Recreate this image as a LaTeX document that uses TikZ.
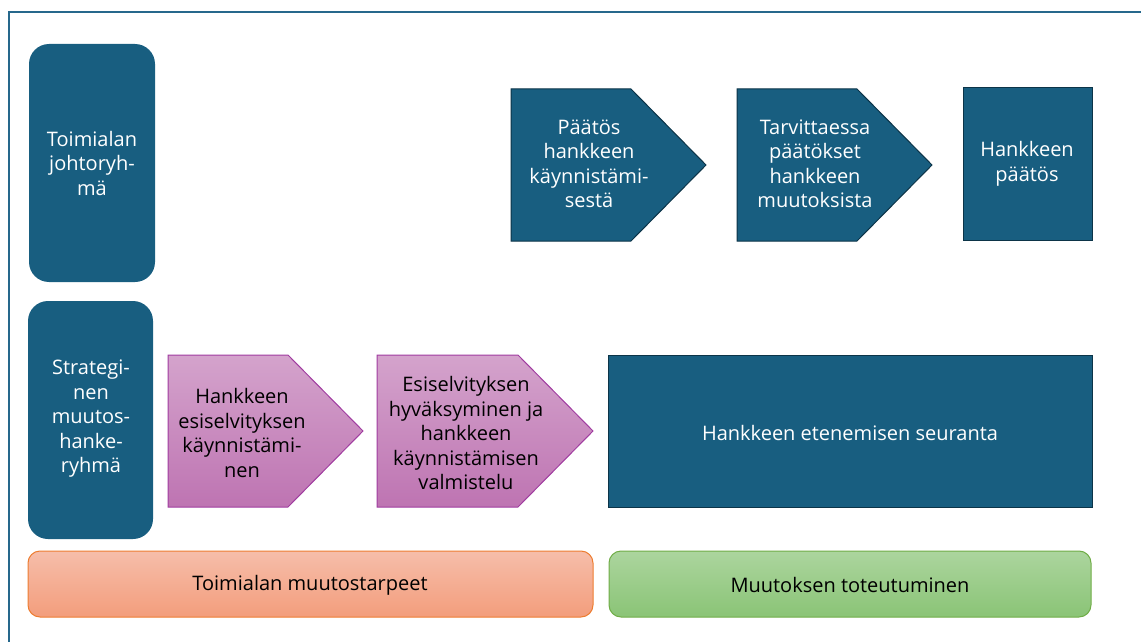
\documentclass[tikz,border=0pt]{standalone}
\usepackage{fontspec}
\setmainfont{Open Sans}

\definecolor{laatikko}{RGB}{24,94,128}
\definecolor{reunus}{RGB}{12,52,72}
\definecolor{kehys}{RGB}{38,104,140}
\definecolor{violettiylä}{RGB}{212,163,204}
\definecolor{violettiala}{RGB}{190,116,178}
\definecolor{violettireuna}{RGB}{160,60,160}
\definecolor{oranssiyla}{RGB}{246,190,170}
\definecolor{oranssiala}{RGB}{243,157,124}
\definecolor{oranssireuna}{RGB}{237,125,49}
\definecolor{vihreayla}{RGB}{172,213,158}
\definecolor{vihreaala}{RGB}{138,196,118}
\definecolor{vihreareuna}{RGB}{112,173,71}

\tikzset{
  teksti/.style={align=center,font=\fontsize{20}{24.5}\selectfont},
  valkoteksti/.style={teksti,text=white},
  sininen/.style={fill=laatikko,draw=reunus,line width=1pt},
  violetti/.style={top color=violettiylä,bottom color=violettiala,draw=violettireuna,line width=1pt},
}

\begin{document}
\begin{tikzpicture}[x=1pt,y=-1pt]
\useasboundingbox (0,0) rectangle (1141,642);

% Kehys
\draw[kehys,line width=2pt] (9,642) -- (9,12) -- (1141,12);

% Ryhmät
\fill[laatikko,rounded corners=20pt] (29,44) rectangle (155,282);
\node[valkoteksti] (johto) at (92,163) {Toimialan\\johtoryh-\\mä};

\fill[laatikko,rounded corners=20pt] (28,301) rectangle (153,539);
\node[valkoteksti] (strat) at (91,419) {Strategi-\\nen\\muutos-\\hanke-\\ryhmä};

% Päätökset
\draw[sininen] (511,89) -- (631,89) -- (706,165) -- (631,241) -- (511,241) -- cycle;
\node[valkoteksti] (kaynnistys) at (589,164) {Päätös\\hankkeen\\käynnistämi-\\sestä};

\draw[sininen] (737,89) -- (857,89) -- (932,165) -- (857,241) -- (737,241) -- cycle;
\node[valkoteksti] (muutokset) at (815,164) {Tarvittaessa\\päätökset\\hankkeen\\muutoksista};

\draw[sininen] (963,88) rectangle (1092,240);
\node[valkoteksti] (paatos) at (1027,164) {Hankkeen\\päätös};

% Esiselvitys
\draw[violetti] (168,355) -- (288,355) -- (363,431) -- (288,507) -- (168,507) -- cycle;
\node[teksti] (esiselvitys) at (242,433) {Hankkeen\\esiselvityksen\\käynnistämi-\\nen};

\draw[violetti] (377,355) -- (518,355) -- (593,431) -- (518,507) -- (377,507) -- cycle;
\node[teksti] (valmistelu) at (466,433) {Esiselvityksen\\hyväksyminen ja\\hankkeen\\käynnistämisen\\valmistelu};

% Seuranta
\draw[sininen] (608,355) rectangle (1092,507);
\node[valkoteksti] (seuranta) at (850,433) {Hankkeen etenemisen seuranta};

% Alapalkit
\draw[top color=oranssiyla,bottom color=oranssiala,draw=oranssireuna,line width=1pt,rounded corners=12pt]
  (28,551) rectangle (593,617);
\node[teksti] (tarpeet) at (310,585) {Toimialan muutostarpeet};

\draw[top color=vihreayla,bottom color=vihreaala,draw=vihreareuna,line width=1pt,rounded corners=12pt]
  (609,551) rectangle (1091,617);
\node[teksti] (toteutuminen) at (850,585) {Muutoksen toteutuminen};

\end{tikzpicture}
\end{document}
